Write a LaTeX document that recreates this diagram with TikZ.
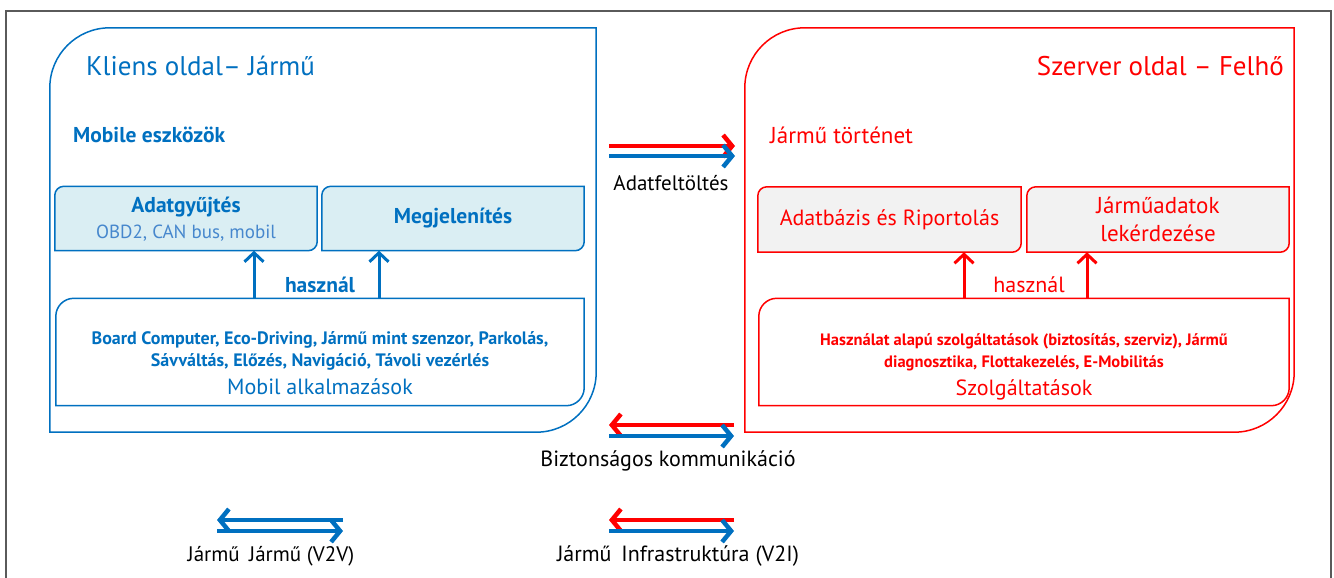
\documentclass[tikz,border=0pt]{standalone}
\usepackage{fontspec}
\setmainfont{PT Sans}
\usetikzlibrary{arrows.meta}
\usetikzlibrary{backgrounds}

\definecolor{kek}{RGB}{0,112,192}
\definecolor{kekhatter}{RGB}{218,238,243}
\definecolor{obdkek}{RGB}{70,135,205}
\definecolor{piros}{RGB}{255,0,0}
\definecolor{szurke}{RGB}{242,242,242}
\definecolor{keret}{RGB}{90,90,90}

\tikzset{
  box/.style={inner sep=0pt},
  szoveg/.style={inner sep=0pt, align=center},
  cim/.style={szoveg, font=\fontsize{27}{32}\selectfont},
  alcim/.style={szoveg, font=\fontsize{22}{28}\selectfont},
  fej/.style={szoveg, font=\fontsize{21.5}{26}\selectfont\bfseries},
  apro/.style={szoveg, font=\fontsize{18}{22}\selectfont\bfseries},
  felnyil/.style={line width=3pt, -{Straight Barb[length=9pt,width=19pt]}},
  vastagnyil/.style={line width=4.5pt, -{Straight Barb[length=9pt,width=22pt]}}
}

% box with two rounded corners (top left, bottom right)
\newcommand{\levelkeret}[3]{%
  \begin{scope}[on background layer]
  \filldraw[#3] (#1.south west) -- ([yshift=-#2]#1.north west)
    arc[start angle=180,end angle=90,radius=#2]
    -- (#1.north east) -- ([yshift=#2]#1.south east)
    arc[start angle=0,end angle=-90,radius=#2] -- cycle;
  \end{scope}}

\begin{document}
\begin{tikzpicture}[x=1pt,y=-1pt]
    \useasboundingbox (0,0) rectangle (1334,578);
    \draw[keret, line width=1.5pt] (6,578) -- (6,11) -- (1331,11) -- (1331,578);

    %kliens oldal
    \node[box, minimum width=546pt, minimum height=404pt] (kliens) at (323,230) {};
    \levelkeret{kliens}{60pt}{draw=kek, line width=1.5pt, fill=white}
    \node[cim, kek, anchor=west] (kliensCim) at (86,66) {Kliens oldal– Jármű};
    \node[fej, kek, anchor=west] (eszkoz) at (73,135) {Mobile eszközök};

    \node[box, minimum width=262pt, minimum height=64pt] (adat) at (186,218.5) {};
    \levelkeret{adat}{9pt}{draw=kek, line width=1.5pt, fill=kekhatter}
    \node[fej, kek] (adatCim) at (186,207) {Adatgyűjtés};
    \node[szoveg, obdkek, font=\fontsize{19}{22}\selectfont] (adatAl) at (186,233) {OBD2, CAN bus, mobil};

    \node[box, minimum width=262pt, minimum height=64pt] (megj) at (453,218.5) {};
    \levelkeret{megj}{9pt}{draw=kek, line width=1.5pt, fill=kekhatter}
    \node[fej, kek] (megjCim) at (453,218) {Megjelenítés};

    \node[box, minimum width=528pt, minimum height=107pt] (app) at (320,352) {};
    \levelkeret{app}{18pt}{draw=kek, line width=1.5pt, fill=white}
    \node[apro, kek] (app1) at (320,340) {Board Computer, Eco-Driving, Jármű mint szenzor, Parkolás,};
    \node[apro, kek] (app2) at (320,362) {Sávváltás, Előzés, Navigáció, Távoli vezérlés};
    \node[alcim, kek] (appCim) at (320,387) {Mobil alkalmazások};

    \draw[felnyil, kek] ([xshift=-66pt]app.north) -- ([xshift=68pt]adat.south);
    \draw[felnyil, kek] ([xshift=59pt]app.north) -- ([xshift=-74pt]megj.south);
    \node[fej, kek] (hasznalK) at (320,285) {használ};

    %szerver oldal
    \node[box, minimum width=549pt, minimum height=404pt] (szerver) at (1019.5,230) {};
    \levelkeret{szerver}{60pt}{draw=piros, line width=1.5pt, fill=white}
    \node[cim, piros, anchor=east] (szerverCim) at (1284,66) {Szerver oldal – Felhő};
    \node[alcim, piros, anchor=west, font=\fontsize{23}{28}\selectfont] (tortenet) at (770,135) {Jármű történet};

    \node[box, minimum width=263pt, minimum height=65pt] (db) at (889.5,219.5) {};
    \levelkeret{db}{9pt}{draw=piros, line width=1.5pt, fill=szurke}
    \node[alcim, piros] (dbCim) at (889.5,220) {Adatbázis és Riportolás};

    \node[box, minimum width=262pt, minimum height=65pt] (lek) at (1158,219.5) {};
    \levelkeret{lek}{9pt}{draw=piros, line width=1.5pt, fill=szurke}
    \node[alcim, piros, font=\fontsize{23}{28}\selectfont] (lekCim) at (1158,219) {Járműadatok\\lekérdezése};

    \node[box, minimum width=530pt, minimum height=107pt] (szolg) at (1024,352) {};
    \levelkeret{szolg}{18pt}{draw=piros, line width=1.5pt, fill=white}
    \node[apro, piros, font=\fontsize{16.5}{20}\selectfont\bfseries] (szolg1) at (1024,341) {Használat alapú szolgáltatások (biztosítás, szerviz), Jármű};
    \node[apro, piros, font=\fontsize{16.5}{20}\selectfont\bfseries] (szolg2) at (1024,363) {diagnosztika, Flottakezelés, E-Mobilitás};
    \node[alcim, piros] (szolgCim) at (1024,390) {Szolgáltatások};

    \draw[felnyil, piros] ([xshift=-60pt]szolg.north) -- ([xshift=74.5pt]db.south);
    \draw[felnyil, piros] ([xshift=63pt]szolg.north) -- ([xshift=-71pt]lek.south);
    \node[alcim, piros] (hasznalSz) at (1029,285) {használ};

    %kommunikacio
    \coordinate (feltA) at (609,146);
    \coordinate (feltB) at (735,146);
    \coordinate (feltC) at (609,156);
    \coordinate (feltD) at (735,156);
    \draw[vastagnyil, piros] (feltA) -- (feltB);
    \draw[vastagnyil, kek] (feltC) -- (feltD);
    \node[alcim, font=\fontsize{21}{26}\selectfont] (feltoltes) at (671,183) {Adatfeltöltés};

    \coordinate (bizA) at (734,425);
    \coordinate (bizB) at (609,425);
    \coordinate (bizC) at (609,436);
    \coordinate (bizD) at (734,436);
    \draw[vastagnyil, piros] (bizA) -- (bizB);
    \draw[vastagnyil, kek] (bizC) -- (bizD);
    \node[alcim] (biztonsag) at (668,461) {Biztonságos kommunikáció};

    \coordinate (vvA) at (343,520);
    \coordinate (vvB) at (217,520);
    \coordinate (vvC) at (217,531);
    \coordinate (vvD) at (343,531);
    \draw[vastagnyil, kek] (vvA) -- (vvB);
    \draw[vastagnyil, kek] (vvC) -- (vvD);
    \node[alcim, font=\fontsize{21}{26}\selectfont] (v2v) at (271,556) {Jármű\hspace{0.45em}Jármű (V2V)};

    \coordinate (viA) at (734,520);
    \coordinate (viB) at (609,520);
    \coordinate (viC) at (609,531);
    \coordinate (viD) at (734,531);
    \draw[vastagnyil, piros] (viA) -- (viB);
    \draw[vastagnyil, kek] (viC) -- (viD);
    \node[alcim] (v2i) at (678,556) {Jármű\hspace{0.45em}Infrastruktúra (V2I)};
\end{tikzpicture}
\end{document}
